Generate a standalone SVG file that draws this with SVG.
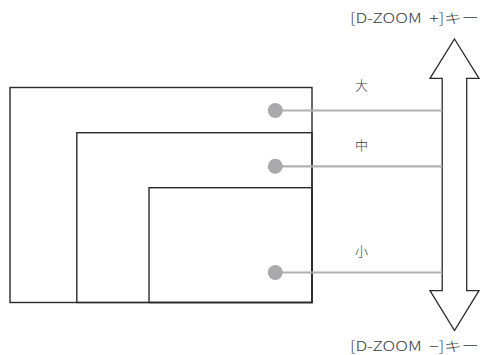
<svg xmlns="http://www.w3.org/2000/svg" width="481" height="355" viewBox="0 0 481 355">
<style>
.frame{fill:none;stroke:#2a2a2a;stroke-width:1.4}
.lead{stroke:#b0b0b2;stroke-width:2.2;fill:none}
.dot{fill:#a9a9ab}
.t{font-family:"Noto Sans CJK JP","Noto Sans",sans-serif;font-size:13px;fill:#3a3a3a;font-weight:300;white-space:pre}
.k{font-size:13.5px}
.arrow{fill:#fff;stroke:#2a2a2a;stroke-width:1.3}
</style>
<rect width="481" height="355" fill="#fff"/>
<g id="large"><rect class="frame" x="10" y="87.5" width="302" height="215"/></g>
<g id="medium"><rect class="frame" x="76.8" y="132.7" width="235.2" height="169.8"/></g>
<g id="small"><rect class="frame" x="149" y="187.7" width="163" height="114.8"/></g>
<g id="zoom-arrow"><path class="arrow" d="M454.5,39 L479,78.3 L466.7,78.3 L466.7,290.7 L479,290.7 L454.5,330.5 L430,290.7 L442.2,290.7 L442.2,78.3 L430,78.3 Z"/></g>
<g id="connectors">
<line class="lead" x1="275.3" y1="110.5" x2="442.2" y2="110.5"/>
<line class="lead" x1="275.3" y1="166.3" x2="442.2" y2="166.3"/>
<line class="lead" x1="275.3" y1="272.5" x2="442.2" y2="272.5"/>
<circle class="dot" cx="275.3" cy="110.5" r="7.5"/>
<circle class="dot" cx="275.3" cy="166.3" r="7.5"/>
<circle class="dot" cx="275.3" cy="272.5" r="7.5"/>
</g>
<g id="labels">
<text class="t k" x="350" y="22.5" xml:space="preserve" textLength="129" lengthAdjust="spacingAndGlyphs">[D-ZOOM  +]キー</text>
<text class="t k" x="350" y="351" xml:space="preserve" textLength="129" lengthAdjust="spacingAndGlyphs">[D-ZOOM  −]キー</text>
<text class="t" x="355" y="90">大</text>
<text class="t" x="355" y="150">中</text>
<text class="t" x="355" y="256">小</text>
</g>
</svg>
